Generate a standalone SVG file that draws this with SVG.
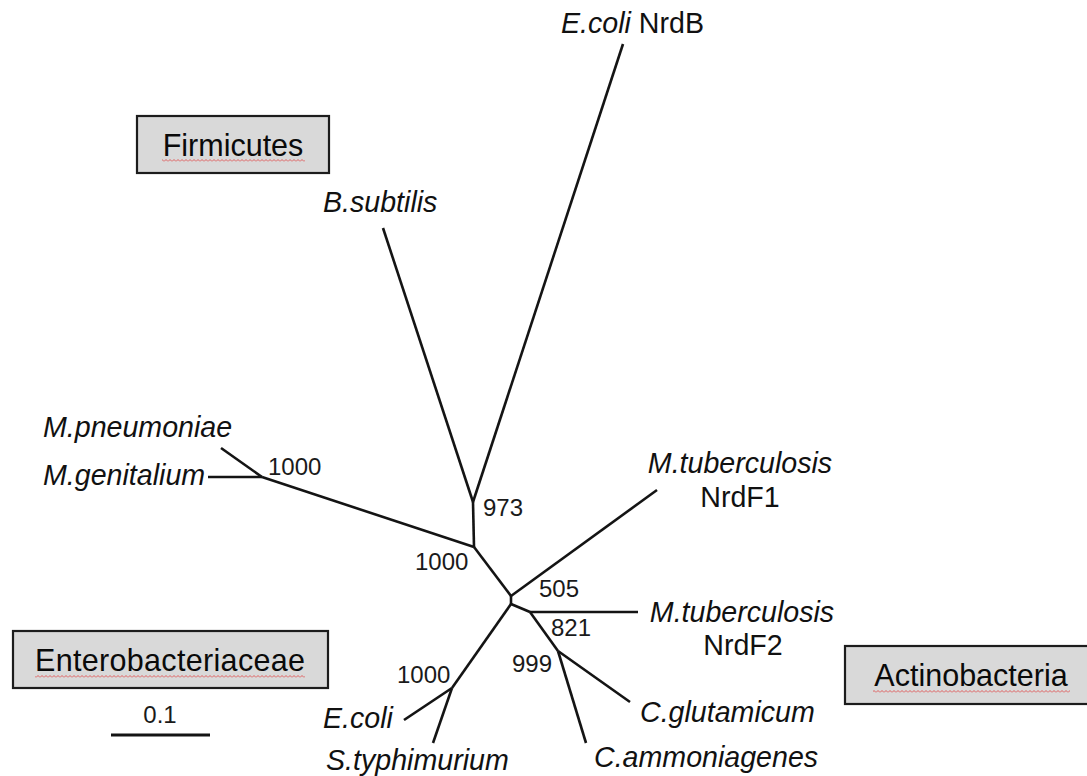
<svg xmlns="http://www.w3.org/2000/svg" width="1087" height="776" viewBox="0 0 1087 776">
<style>
.e{stroke:#141414;stroke-width:2.6;fill:none;stroke-linecap:butt}
.lab{font-family:"Liberation Sans",Arial,sans-serif;font-size:28.6px;fill:#111}
.it{font-style:italic}
.num{font-family:"Liberation Sans",Arial,sans-serif;font-size:24px;fill:#1a1a1a}
.box{fill:#d9d9d9;stroke:#1c1c1c;stroke-width:2.2}
.bt{font-family:"Liberation Sans",Arial,sans-serif;font-size:30.5px;fill:#0a0a0a;text-anchor:middle}
.sq{fill:url(#wave)}
</style>
<defs>
<pattern id="wave" patternUnits="userSpaceOnUse" x="0" y="0" width="4" height="3">
<path d="M0 2.5 L2 0.5 L4 2.5" fill="none" stroke="#e05050" stroke-width="0.9"/>
</pattern>
</defs>
<rect width="1087" height="776" fill="#ffffff"/>
<g id="connectors">
<line class="e" x1="473" y1="502" x2="383" y2="228"/>
<line class="e" x1="473" y1="502" x2="623" y2="44"/>
<line class="e" x1="473" y1="502" x2="474" y2="547"/>
<line class="e" x1="474" y1="547" x2="262" y2="477"/>
<line class="e" x1="262" y1="477" x2="221" y2="448"/>
<line class="e" x1="262" y1="477" x2="208" y2="477"/>
<line class="e" x1="474" y1="547" x2="511" y2="596"/>
<line class="e" x1="511" y1="596" x2="657" y2="490"/>
<line class="e" x1="511" y1="596" x2="511" y2="604"/>
<line class="e" x1="511" y1="604" x2="530" y2="612"/>
<line class="e" x1="530" y1="612" x2="638" y2="612"/>
<line class="e" x1="530" y1="612" x2="558" y2="651"/>
<line class="e" x1="558" y1="651" x2="630" y2="702"/>
<line class="e" x1="558" y1="651" x2="586" y2="743"/>
<line class="e" x1="511" y1="604" x2="452" y2="688"/>
<line class="e" x1="452" y1="688" x2="404" y2="720"/>
<line class="e" x1="452" y1="688" x2="433" y2="743"/>
</g>
<g id="firmicutes">
<rect class="box" x="137" y="116" width="192" height="57"/>
<text class="bt" x="233" y="156">Firmicutes</text>
<rect class="sq" x="162" y="159" width="143" height="3"/>
</g>
<g id="enterobacteriaceae">
<rect class="box" x="13" y="631" width="315" height="57"/>
<text class="bt" x="170" y="671" textLength="270">Enterobacteriaceae</text>
<rect class="sq" x="35" y="675" width="270" height="3"/>
</g>
<g id="actinobacteria">
<rect class="box" x="845" y="646" width="246" height="58"/>
<text class="bt" x="971" y="686">Actinobacteria</text>
<rect class="sq" x="873" y="690" width="197" height="3"/>
</g>
<g id="ecoli-nrdb"><text class="lab" x="561" y="33"><tspan class="it">E.coli</tspan> NrdB</text></g>
<g id="bsubtilis"><text class="lab it" x="323" y="212">B.subtilis</text></g>
<g id="mpneumoniae"><text class="lab it" x="43" y="437">M.pneumoniae</text></g>
<g id="mgenitalium"><text class="lab it" x="43" y="485">M.genitalium</text></g>
<g id="mtb-nrdf1"><text class="lab it" x="740" y="473" text-anchor="middle">M.tuberculosis</text><text class="lab" x="740" y="507" text-anchor="middle">NrdF1</text></g>
<g id="mtb-nrdf2"><text class="lab it" x="742" y="622" text-anchor="middle">M.tuberculosis</text><text class="lab" x="743" y="655" text-anchor="middle">NrdF2</text></g>
<g id="cglutamicum"><text class="lab it" x="640" y="722">C.glutamicum</text></g>
<g id="cammoniagenes"><text class="lab it" x="594" y="767">C.ammoniagenes</text></g>
<g id="ecoli"><text class="lab it" x="323" y="728">E.coli</text></g>
<g id="styphimurium"><text class="lab it" x="326" y="770">S.typhimurium</text></g>
<g id="bootstrap">
<text class="num" x="268" y="475">1000</text>
<text class="num" x="483" y="516">973</text>
<text class="num" x="415" y="570">1000</text>
<text class="num" x="539" y="597">505</text>
<text class="num" x="551" y="636">821</text>
<text class="num" x="512" y="672">999</text>
<text class="num" x="397" y="683">1000</text>
</g>
<g id="scalebar">
<text class="num" x="160" y="723" text-anchor="middle">0.1</text>
<line x1="111" y1="735" x2="210" y2="735" stroke="#141414" stroke-width="3"/>
</g>
</svg>
